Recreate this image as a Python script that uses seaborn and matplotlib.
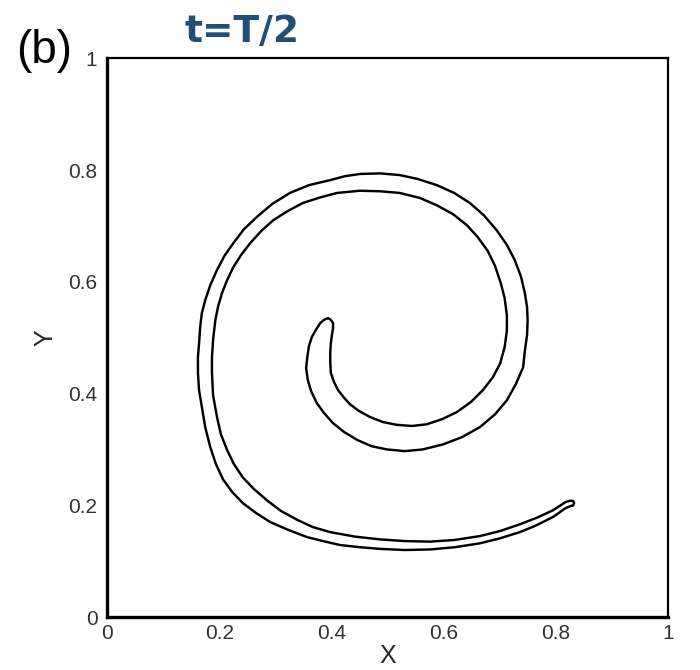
import numpy as np
import pandas as pd
import matplotlib
matplotlib.use("Agg")
import matplotlib.pyplot as plt
from matplotlib.ticker import MultipleLocator
import seaborn as sns

sns.set_style("white")
plt.rcParams["font.family"] = ["Liberation Sans", "DejaVu Sans"]

# Interface contour of the deformed fluid filament at t = T/2.
# Outer edge: from the tail tip, along the bottom, up the left side,
# across the top, down the right side and into the inner hook tip.
outer_x = [0.831, 0.825, 0.816, 0.808, 0.795, 0.781, 0.763, 0.736, 0.701, 0.665,
           0.620, 0.576, 0.531, 0.487, 0.451, 0.415, 0.385, 0.357, 0.323, 0.291,
           0.266, 0.242, 0.223, 0.207, 0.194, 0.184, 0.175, 0.169, 0.164, 0.162,
           0.162, 0.164, 0.166, 0.169, 0.175, 0.184, 0.196, 0.209, 0.225, 0.244,
           0.267, 0.294, 0.326, 0.360, 0.398, 0.424, 0.451, 0.487, 0.522, 0.554,
           0.588, 0.619, 0.647, 0.672, 0.695, 0.713, 0.727, 0.738, 0.745, 0.749,
           0.750, 0.749, 0.745, 0.742, 0.729, 0.713, 0.692, 0.665, 0.633, 0.599,
           0.563, 0.531, 0.499, 0.471, 0.446, 0.423, 0.403, 0.387, 0.374, 0.364,
           0.358, 0.355, 0.357, 0.360, 0.365, 0.373, 0.380, 0.387, 0.394, 0.399,
           0.403]
outer_y = [0.200, 0.198, 0.194, 0.188, 0.179, 0.172, 0.163, 0.152, 0.141, 0.132,
           0.125, 0.121, 0.120, 0.122, 0.125, 0.129, 0.136, 0.143, 0.156, 0.170,
           0.186, 0.204, 0.224, 0.246, 0.274, 0.304, 0.340, 0.376, 0.406, 0.437,
           0.465, 0.490, 0.519, 0.544, 0.567, 0.594, 0.621, 0.646, 0.669, 0.694,
           0.716, 0.739, 0.759, 0.773, 0.782, 0.789, 0.793, 0.794, 0.791, 0.784,
           0.773, 0.759, 0.741, 0.719, 0.692, 0.666, 0.639, 0.610, 0.580, 0.555,
           0.531, 0.505, 0.476, 0.447, 0.417, 0.388, 0.363, 0.340, 0.322, 0.309,
           0.300, 0.297, 0.300, 0.306, 0.317, 0.331, 0.347, 0.365, 0.383, 0.404,
           0.424, 0.445, 0.465, 0.485, 0.501, 0.515, 0.526, 0.532, 0.535, 0.532,
           0.526]

# Inner edge: from the hook tip back round the spiral to the tail tip.
inner_x = [0.403, 0.401, 0.399, 0.398, 0.398, 0.399, 0.405, 0.412, 0.423, 0.433,
           0.449, 0.469, 0.492, 0.517, 0.544, 0.570, 0.597, 0.624, 0.649, 0.670,
           0.688, 0.701, 0.709, 0.713, 0.713, 0.709, 0.702, 0.692, 0.679, 0.661,
           0.642, 0.617, 0.588, 0.558, 0.522, 0.487, 0.451, 0.410, 0.380, 0.349,
           0.321, 0.296, 0.275, 0.255, 0.239, 0.225, 0.214, 0.205, 0.198, 0.193,
           0.189, 0.187, 0.187, 0.189, 0.196, 0.203, 0.214, 0.226, 0.242, 0.262,
           0.285, 0.310, 0.339, 0.367, 0.398, 0.442, 0.487, 0.531, 0.576, 0.620,
           0.665, 0.701, 0.736, 0.767, 0.795, 0.809, 0.818, 0.825, 0.831, 0.833]
inner_y = [0.517, 0.505, 0.490, 0.474, 0.456, 0.437, 0.420, 0.406, 0.392, 0.381,
           0.369, 0.358, 0.349, 0.344, 0.342, 0.345, 0.354, 0.367, 0.385, 0.406,
           0.429, 0.454, 0.483, 0.513, 0.540, 0.571, 0.598, 0.628, 0.655, 0.680,
           0.701, 0.721, 0.737, 0.750, 0.759, 0.762, 0.763, 0.759, 0.751, 0.741,
           0.726, 0.710, 0.691, 0.669, 0.648, 0.626, 0.603, 0.580, 0.556, 0.531,
           0.496, 0.465, 0.437, 0.397, 0.358, 0.327, 0.299, 0.274, 0.250, 0.229,
           0.209, 0.190, 0.174, 0.161, 0.152, 0.144, 0.139, 0.136, 0.135, 0.138,
           0.145, 0.154, 0.166, 0.178, 0.191, 0.200, 0.206, 0.208, 0.208, 0.204]

major_ticks = [0, 0.2, 0.4, 0.6, 0.8, 1]
tick_labels = ["0", "0.2", "0.4", "0.6", "0.8", "1"]

# Close the loop so the contour is drawn as one continuous curve.
xs = outer_x + inner_x + outer_x[:1]
ys = outer_y + inner_y + outer_y[:1]
contour = pd.DataFrame({"X": xs, "Y": ys, "order": np.arange(len(xs))})

fig = plt.figure(figsize=(7.0, 6.7), dpi=100)
ax = fig.add_axes([0.153, 0.079, 0.801, 0.834])

sns.lineplot(data=contour, x="X", y="Y", sort=False, estimator=None,
             color="black", linewidth=1.75, ax=ax, legend=False)
for line in ax.lines:
    line.set_solid_joinstyle("round")
    line.set_solid_capstyle("round")
    line.set_antialiased(True)

ax.set_xlim(0, 1)
ax.set_ylim(0, 1)
ax.set_xticks(major_ticks)
ax.set_yticks(major_ticks)
ax.set_xticklabels(tick_labels)
ax.set_yticklabels(tick_labels)
ax.xaxis.set_minor_locator(MultipleLocator(0.05))
ax.yaxis.set_minor_locator(MultipleLocator(0.05))
ax.tick_params(which="major", direction="in", length=11, width=2.2,
               labelsize=15, colors="black", labelcolor="#333333",
               top=False, right=False)
ax.tick_params(which="minor", direction="in", length=6, width=1.0,
               top=False, right=False)
ax.tick_params(axis="x", which="major", pad=5)
ax.tick_params(axis="y", which="major", pad=7)

for side in ["left", "bottom"]:
    ax.spines[side].set_linewidth(2.4)
for side in ["top", "right"]:
    ax.spines[side].set_linewidth(1.6)
for sp in ax.spines.values():
    sp.set_color("black")
    sp.set_visible(True)

ax.set_xlabel("X", fontsize=18, labelpad=1)
ax.set_ylabel("Y", fontsize=18, labelpad=8)

fig.text(0.063, 0.906, "(b)", fontsize=33, ha="center", va="baseline", color="black")
fig.text(0.346, 0.937, "t=T/2", fontsize=27, fontweight="bold", ha="center",
         va="baseline", color="#1f4e79", family="DejaVu Sans")

fig.savefig("out.png", dpi=100)
